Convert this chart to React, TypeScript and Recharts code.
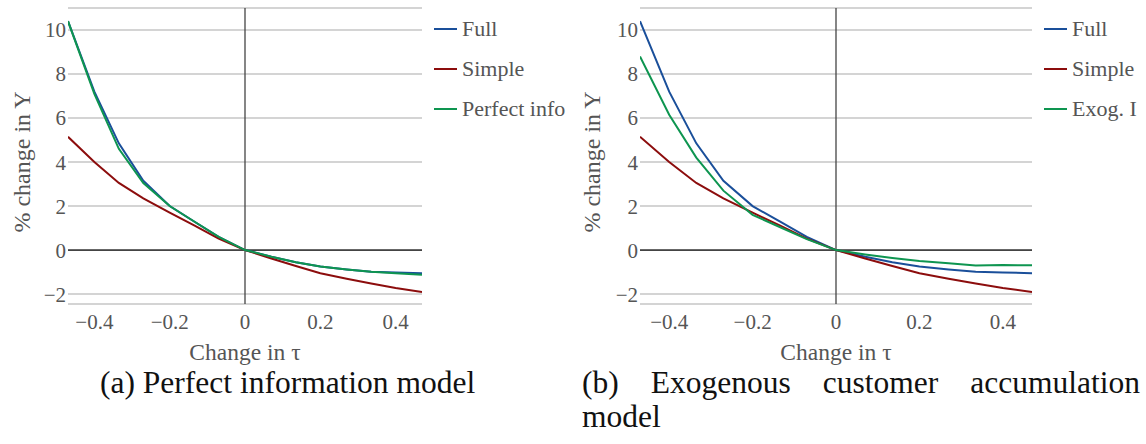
import { LineChart, Line, XAxis, YAxis, CartesianGrid, ReferenceLine } from "recharts";

// change in tau (x positions of the computed points)
const tauChange = [-0.47, -0.4, -0.335, -0.27, -0.2, -0.135, -0.07, 0, 0.07, 0.135, 0.2, 0.27, 0.335, 0.4, 0.47];

// % change in Y
const fullY = [10.4, 7.2, 4.85, 3.15, 2.0, 1.3, 0.6, 0, -0.3, -0.55, -0.75, -0.88, -0.98, -1.02, -1.05];
const simpleY = [5.15, 4.0, 3.05, 2.35, 1.7, 1.12, 0.52, 0, -0.38, -0.72, -1.05, -1.3, -1.52, -1.72, -1.9];
const perfectInfoY = [10.4, 7.1, 4.6, 3.05, 2.0, 1.3, 0.6, 0, -0.3, -0.55, -0.75, -0.88, -0.98, -1.05, -1.12];
const exogY = [8.8, 6.15, 4.2, 2.7, 1.6, 1.05, 0.5, 0, -0.2, -0.36, -0.5, -0.6, -0.7, -0.68, -0.69];

const xTicks = [-0.4, -0.2, 0, 0.2, 0.4];
const yTicks = [-2, 0, 2, 4, 6, 8, 10];

const BLUE = "#1a4f9a";
const RED = "#8c0d0d";
const GREEN = "#0e9550";
const FONT = "'Liberation Serif', 'Times New Roman', serif";
const CHART_H = 376;

type Series = { key: string; name: string; color: string; values: number[] };

const leftSeries: Series[] = [
  { key: "full", name: "Full", color: BLUE, values: fullY },
  { key: "simple", name: "Simple", color: RED, values: simpleY },
  { key: "perfect", name: "Perfect info", color: GREEN, values: perfectInfoY },
];

const rightSeries: Series[] = [
  { key: "full", name: "Full", color: BLUE, values: fullY },
  { key: "simple", name: "Simple", color: RED, values: simpleY },
  { key: "exog", name: "Exog. I", color: GREEN, values: exogY },
];

const minus = (v: number) => String(v).replace("-", "\u2212");

function buildRows(series: Series[]) {
  return tauChange.map((t, i) => {
    const row: Record<string, number> = { tau: t };
    series.forEach((s) => (row[s.key] = s.values[i]));
    return row;
  });
}

const YLabel = ({ viewBox }: any) => {
  const cx = viewBox.x + 22;
  const cy = viewBox.y + viewBox.height / 2 + 6;
  return (
    <text
      x={cx}
      y={cy}
      transform={`rotate(-90 ${cx} ${cy})`}
      textAnchor="middle"
      dominantBaseline="central"
      fill="#555"
      fontSize={24}
      fontFamily={FONT}
    >
      % change in Y
    </text>
  );
};

function Panel({ series, width, yAxisWidth, right }: { series: Series[]; width: number; yAxisWidth: number; right: number }) {
  const data = buildRows(series);
  return (
    <div style={{ position: "relative", width, height: CHART_H }}>
      <LineChart width={width} height={CHART_H} data={data} margin={{ top: 8, right, bottom: 0, left: 0 }}>
        <CartesianGrid vertical={false} stroke="#c6c6c6" strokeWidth={1.5} />
        <XAxis
          dataKey="tau"
          type="number"
          domain={[-0.47, 0.47]}
          ticks={xTicks}
          tickFormatter={minus}
          axisLine={false}
          tickLine={false}
          tickSize={0}
          tickMargin={10}
          height={CHART_H - 304}
          tick={{ fill: "#555", fontSize: 21, fontFamily: FONT }}
          label={{ value: "Change in \u03c4", position: "insideBottom", offset: CHART_H - 360, fill: "#555", fontSize: 23.5, fontFamily: FONT }}
          allowDataOverflow
        />
        <YAxis
          type="number"
          domain={[-2.45, 11]}
          ticks={yTicks}
          tickFormatter={minus}
          axisLine={false}
          tickLine={false}
          tickSize={0}
          tickMargin={2}
          width={yAxisWidth}
          tick={{ fill: "#555", fontSize: 21, fontFamily: FONT }}
          label={{ content: YLabel }}
          allowDataOverflow
        />
        <ReferenceLine y={0} stroke="#444" strokeWidth={1.8} />
        <ReferenceLine x={0} stroke="#444" strokeWidth={1.3} />
        {series.map((s) => (
          <Line
            key={s.key}
            type="linear"
            dataKey={s.key}
            name={s.name}
            stroke={s.color}
            strokeWidth={2}
            dot={false}
            isAnimationActive={false}
          />
        ))}
      </LineChart>
      {/* legend */}
      <div style={{ position: "absolute", left: width - right + 12, top: 16, fontFamily: FONT, fontSize: 22, color: "#555" }}>
        {series.map((s) => (
          <div key={s.key} style={{ display: "flex", alignItems: "center", height: 26, marginBottom: 14 }}>
            <span style={{ display: "inline-block", width: 23, height: 2, background: s.color, marginRight: 5 }} />
            <span>{s.name}</span>
          </div>
        ))}
      </div>
    </div>
  );
}

export default function App() {
  return (
    <div style={{ position: "absolute", left: 0, top: 0, width: 1146, height: 444, background: "#fff", fontFamily: FONT }}>
      <div style={{ position: "absolute", left: 0, top: 0 }}>
        <Panel series={leftSeries} width={570} yAxisWidth={68} right={148} />
      </div>
      <div style={{ position: "absolute", left: 570, top: 0 }}>
        <Panel series={rightSeries} width={576} yAxisWidth={70} right={114} />
      </div>
      <div style={{ position: "absolute", left: 100, top: 367, fontSize: 31.5, lineHeight: "31px", color: "#111", whiteSpace: "nowrap" }}>
        (a) Perfect information model
      </div>
      <div style={{ position: "absolute", left: 582, top: 367, width: 558, fontSize: 31.5, color: "#111", lineHeight: "31px" }}>
        <div style={{ display: "flex", justifyContent: "space-between" }}>
          <span>(b)</span>
          <span>Exogenous</span>
          <span>customer</span>
          <span>accumulation</span>
        </div>
        <div style={{ marginTop: 3 }}>model</div>
      </div>
    </div>
  );
}
